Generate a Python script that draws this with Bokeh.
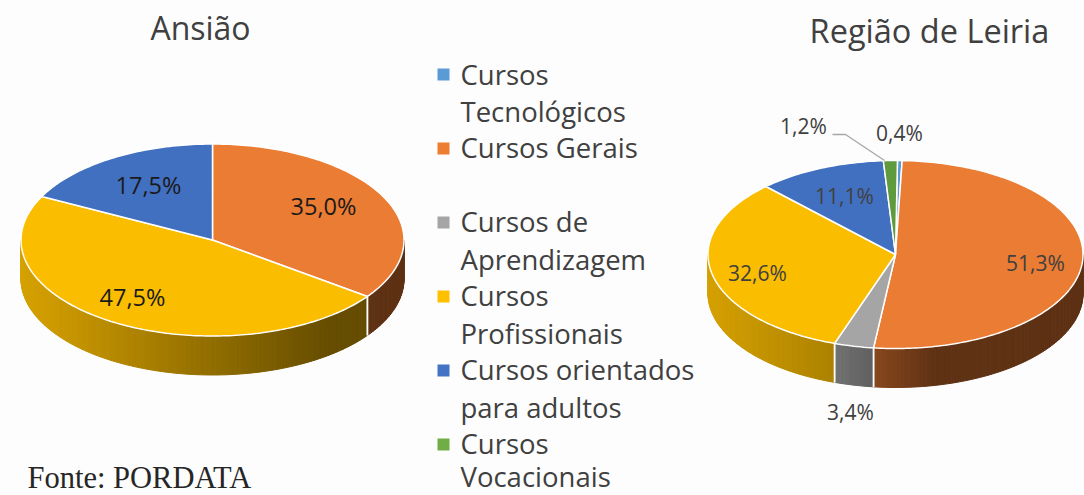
import math
from bokeh.plotting import figure
from bokeh.embed import file_html
from bokeh.resources import INLINE
from bokeh.core.properties import value
from bokeh.models import Range1d

# ---- data ----
categories = ["Cursos Tecnológicos", "Cursos Gerais", "Cursos de Aprendizagem",
              "Cursos Profissionais", "Cursos orientados para adultos", "Cursos Vocacionais"]
colors = ["#5B9BD5", "#ED7D31", "#A5A5A5", "#FFC000", "#4472C4", "#70AD47"]
top_colors_a = ["#5B9BD5", "#EB7C33", "#A5A5A5", "#FBBD00", "#4270C0", "#70AD47"]
top_colors_l = ["#5B9BD5", "#EB7C33", "#A5A5A5", "#FBBD00", "#4270C0", "#5F9A3C"]
ansiao = [0.0, 35.0, 0.0, 47.5, 17.5, 0.0]
leiria = [0.4, 51.3, 3.4, 32.6, 11.1, 1.2]

legend_lines = [["Cursos", "Tecnológicos"], ["Cursos Gerais"], ["Cursos de", "Aprendizagem"],
                ["Cursos", "Profissionais"], ["Cursos orientados", "para adultos"],
                ["Cursos", "Vocacionais"]]
legend_y = [[74, 111], [147], [221, 259], [295, 333], [369, 407], [443, 476]]
legend_sq_y = [74, 148, 222, 296, 370, 444]

labels_a = ["35,0%", "47,5%", "17,5%"]
labels_a_x = [323, 132, 148]
labels_a_y = [205, 296, 184]
labels_l = ["0,4%", "51,3%", "3,4%", "32,6%", "11,1%", "1,2%"]
labels_l_x = [899, 1035, 850, 757, 844, 803]
labels_l_y = [132, 262, 411, 272, 195, 125]

W, H = 1084, 495
BG = "#FDFDFD"
FONT = "Open Sans"

p = figure(width=W, height=H, output_backend="svg", toolbar_location=None,
           x_range=Range1d(0, W), y_range=Range1d(H, 0),
           x_axis_location=None, y_axis_location=None, min_border=0,
           background_fill_color=BG, border_fill_color=BG, outline_line_color=None)
p.grid.visible = False


def lerp_stops(stops, t):
    if t <= stops[0][0]:
        return stops[0][1]
    for (a, fa), (b, fb) in zip(stops, stops[1:]):
        if t <= b:
            return fa + (fb - fa) * (t - a) / (b - a)
    return stops[-1][1]


def shade(col, f):
    r, g, b = (int(col[i:i + 2], 16) for i in (1, 3, 5))
    return "#%02x%02x%02x" % (int(r * f), int(g * f), int(b * f))


def pie3d(vals, cols, cx, cy, rx, ry, depth, start, stops):
    pt = lambda a, dy=0.0: (cx + rx * math.sin(a), cy - ry * math.cos(a) + dy)
    a = math.radians(start)
    total = sum(vals)
    spans = []
    for v, c in zip(vals, cols):
        if v <= 0:
            continue
        b = a + v / total * 2 * math.pi
        spans.append((a, b, c))
        a = b
    # side wall, strips of the front half only
    sx, sy, sc = [], [], []
    seps_x, seps_y = [], []
    for a0, b0, c in spans:
        lo, hi = max(a0, math.pi / 2), min(b0, 3 * math.pi / 2)
        if hi > lo:
            n = max(2, int((hi - lo) / math.radians(1.0)))
            for i in range(n):
                u = lo + (hi - lo) * i / n
                w = lo + (hi - lo) * (i + 1) / n
                (x0, y0), (x1, y1) = pt(u), pt(w)
                xs = [x0, x1, x1, x0]
                ys = [y0, y1, y1 + depth, y0 + depth]
                sx.append(xs); sy.append(ys)
                sc.append(shade(c, lerp_stops(stops, math.sin((u + w) / 2))))
        for e in (a0, b0):
            if math.pi / 2 < e < 3 * math.pi / 2:
                x0, y0 = pt(e)
                seps_x.append([x0, x0]); seps_y.append([y0, y0 + depth])
    p.patches(sx, sy, fill_color=sc, line_color=sc, line_width=1)
    p.multi_line(seps_x, seps_y, line_color="white", line_width=1.5)
    # top face
    tx, ty, tc = [], [], []
    for a0, b0, c in spans:
        n = max(2, int((b0 - a0) / math.radians(1.0)))
        xs, ys = [cx], [cy]
        for i in range(n + 1):
            x, y = pt(a0 + (b0 - a0) * i / n)
            xs.append(x); ys.append(y)
        tx.append(xs); ty.append(ys); tc.append(c)
    p.patches(tx, ty, fill_color=tc, line_color="white", line_width=1.5)


# Ansião
pie3d(ansiao, top_colors_a, 212, 239.5, 191.5, 96, 39, 0,
      [(-1, .85), (-.85, .82), (.6, .41), (1, .40)])
# Região de Leiria
pie3d(leiria, top_colors_l, 895, 254, 187.5, 94, 39, 0.6,
      [(-1, .85), (-.3, .68), (-.1, .57), (.2, .41), (1, .40)])

# leader line
p.line([832, 845, 884], [134, 134, 160], line_color="#A6A6A6", line_width=1.3)

# data labels
p.text(labels_a_x, labels_a_y, text=labels_a, text_font=value(FONT), text_font_size="23.5px",
       text_color="#1A1A1A", text_align="center", text_baseline="middle")
p.text(labels_l_x, labels_l_y, text=labels_l, text_font=value(FONT), text_font_size="21px",
       text_color="#404040", text_align="center", text_baseline="middle")

# titles
p.text([200], [27], text=["Ansião"], text_font=value(FONT), text_font_size="32px",
       text_color="#404040", text_align="center", text_baseline="middle")
p.text([929], [30], text=["Região de Leiria"], text_font=value(FONT), text_font_size="32.5px",
       text_color="#404040", text_align="center", text_baseline="middle")

# legend
p.scatter([443] * len(colors), legend_sq_y, marker="square", size=12,
          fill_color=colors, line_color=None)
for lines, ys in zip(legend_lines, legend_y):
    p.text([460] * len(lines), ys, text=lines, text_font=value(FONT), text_font_size="27.5px",
           text_color="#404040", text_align="left", text_baseline="middle")

# source
p.text([27], [477], text=["Fonte: PORDATA"], text_font=value("Liberation Serif"),
       text_font_size="30.5px", text_color="#262626", text_align="left", text_baseline="middle")

open("out.html", "w").write(file_html(p, INLINE))
